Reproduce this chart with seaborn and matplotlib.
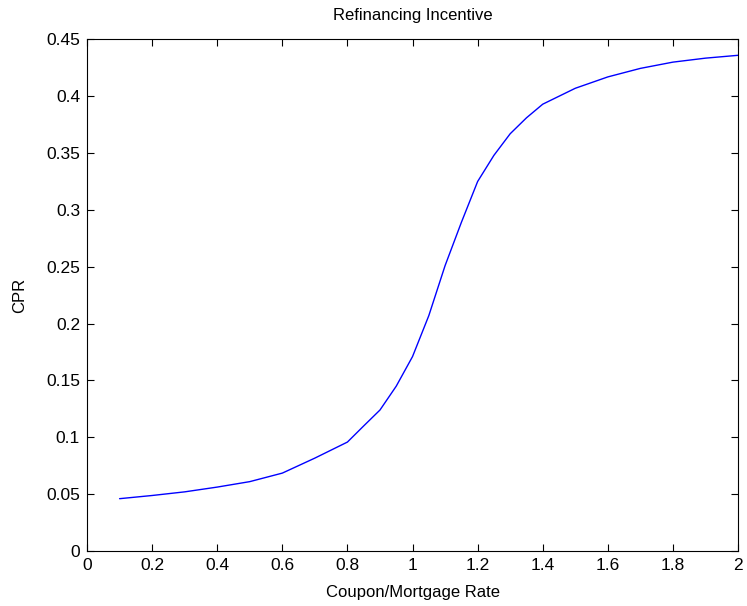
import numpy as np
import pandas as pd
import seaborn as sns
import matplotlib.pyplot as plt

# values
ratio = [0.1, 0.2, 0.3, 0.4, 0.5, 0.6, 0.7, 0.8, 0.85, 0.9, 0.95, 1.0, 1.05,
         1.1, 1.15, 1.2, 1.25, 1.3, 1.35, 1.4, 1.5, 1.6, 1.7, 1.8, 1.9, 2.0]
cpr = [0.046, 0.0488, 0.052, 0.0562, 0.061, 0.0685, 0.0817, 0.0958, 0.110,
       0.124, 0.145, 0.171, 0.207, 0.251, 0.289, 0.325, 0.348, 0.367, 0.381,
       0.393, 0.407, 0.417, 0.4245, 0.430, 0.4335, 0.436]
x_ticks = [0, 0.2, 0.4, 0.6, 0.8, 1, 1.2, 1.4, 1.6, 1.8, 2]
y_ticks = [0, 0.05, 0.1, 0.15, 0.2, 0.25, 0.3, 0.35, 0.4, 0.45]

df = pd.DataFrame({"Coupon/Mortgage Rate": ratio, "CPR": cpr})

sns.set_style("ticks")
plt.rcParams['font.family'] = ['Liberation Sans', 'DejaVu Sans']
plt.rcParams['text.color'] = 'black'
plt.rcParams['axes.labelcolor'] = 'black'

fig = plt.figure(figsize=(7.47, 6.06), dpi=100)
ax = fig.add_axes([0.1165, 0.0908, 0.8715, 0.8442])

sns.lineplot(data=df, x="Coupon/Mortgage Rate", y="CPR", color="#0000ff",
             linewidth=1.0, ax=ax)

ax.set_xlim(0, 2)
ax.set_ylim(0, 0.45)
ax.set_xticks(x_ticks)
ax.set_xticklabels([f"{t:g}" for t in x_ticks])
ax.set_yticks(y_ticks)
ax.set_yticklabels([f"{t:g}" for t in y_ticks])
ax.tick_params(direction="in", top=True, right=True, length=5, width=0.8,
               labelsize=12.5, colors="black", pad=5)
for s in ax.spines.values():
    s.set_visible(True)
    s.set_color("black")
    s.set_linewidth(0.8)

ax.set_title("Refinancing Incentive", fontsize=12, pad=14, color="black")
ax.set_xlabel("Coupon/Mortgage Rate", fontsize=12, labelpad=9)
ax.set_ylabel("CPR", fontsize=12, labelpad=14)

fig.savefig("out.png", dpi=100)
